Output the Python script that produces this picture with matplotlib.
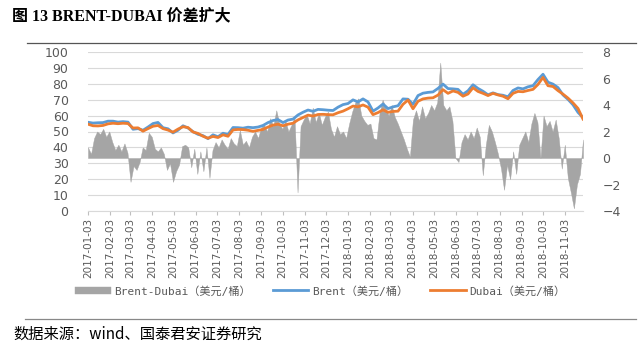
import matplotlib
matplotlib.use("Agg")
import matplotlib.pyplot as plt
import pandas as pd
import numpy as np

# ---- data ----
brent = [55.8, 55.3, 55.5, 55.6, 56.5, 56.5, 55.9, 56.2, 55.9, 51.4, 51.8, 50.8, 52.8,
         55.0, 55.7, 52.4, 51.7, 49.1, 50.8, 53.6, 52.2, 49.9, 48.2, 47.4, 45.5, 47.9,
         46.7, 48.9, 48.1, 52.5, 52.4, 52.1, 52.7, 52.4, 52.8, 53.8, 55.6, 56.9, 57.5,
         55.6, 57.2, 57.8, 60.4, 62.1, 63.5, 62.7, 63.9, 63.7, 63.4, 63.2, 65.3, 66.9,
         67.6, 69.9, 68.6, 70.5, 68.6, 62.8, 64.8, 67.3, 64.4, 65.5, 66.2, 70.5, 70.3,
         67.1, 72.6, 74.1, 74.6, 74.9, 77.1, 79.8, 77.0, 76.8, 76.5, 73.4, 75.6, 79.4,
         77.1, 75.3, 73.1, 74.3, 73.2, 72.8, 71.8, 75.8, 77.4, 76.8, 78.1, 78.8, 82.7,
         86.0, 81.0, 79.8, 77.6, 73.0, 70.2, 66.8, 62.0, 58.8]
dubai = [54.6, 53.6, 53.5, 53.8, 54.8, 55.2, 54.9, 55.2, 55.0, 52.2, 52.3, 50.2, 51.8,
         53.3, 53.8, 51.8, 50.9, 49.6, 51.5, 53.0, 52.5, 49.7, 48.8, 47.0, 45.8, 46.9,
         46.2, 47.9, 47.0, 51.0, 51.3, 51.2, 50.8, 50.1, 50.7, 51.3, 52.8, 54.0, 54.6,
         53.6, 54.6, 55.2, 57.3, 58.8, 60.3, 59.7, 60.7, 60.8, 60.6, 60.5, 61.8, 62.8,
         64.3, 66.0, 65.5, 66.7, 65.3, 60.6, 61.9, 63.6, 62.1, 62.6, 62.8, 67.1, 69.8,
         64.3, 69.0, 70.5, 71.0, 71.2, 72.9, 76.3, 74.0, 75.5, 74.6, 72.2, 73.6, 77.5,
         75.2, 74.0, 72.6, 74.0, 73.0, 72.2, 70.6, 74.0, 75.2, 75.0, 75.8, 76.5, 79.6,
         84.0, 78.8, 78.3, 75.7, 73.5, 71.0, 68.0, 64.5, 57.8]
spread = [0.8, 0.3, 1.5, 2.0, 1.8, 2.2, 1.6,
          2.0, 1.2, 0.6, 1.0, 0.5, 1.1, 0.4,
          -1.8, -0.6, -0.9, -0.3, 0.8, 0.6, 1.9,
          1.6, 0.7, 0.5, 0.8, 0.3, -0.9, -0.4, -1.8,
          -1.0, -0.5, 0.9, 1.0, 0.8, -0.7, 0.7,
          -1.2, 0.5, -1.0, 0.8, -1.5, 0.6, 1.2,
          0.8, 1.4, 1.0, 0.7, 1.5, 1.1, 0.9,
          2.1, 1.0, 1.3, 0.8, 1.6, 2.0, 1.5, 2.3,
          2.5, 2.0, 3.0, 2.4, 3.6, 2.6, 2.2,
          2.8, 2.0, 2.5, 3.1, -2.6, 2.4, 2.9,
          3.3, 2.6, 3.8, 2.7, 3.4, 2.5, 3.1,
          3.5, 2.2, 1.6, 2.4, 1.8, 2.0, 1.5,
          2.6, 3.5, 4.2, 4.5, 3.2, 2.8, 2.5,
          2.6, 1.5, 1.4, 3.4, 4.4, 3.8, 3.2,
          4.0, 3.1, 2.6, 2.0, 1.4, 0.7, 0.1, 2.9,
          3.6, 2.8, 3.9, 3.0, 3.4, 4.0, 3.6,
          4.2, 7.2, 4.0, 3.6, 3.9, 2.8, 0.0,
          -0.3, 1.2, 1.8, 1.4, 2.0, 1.5, 2.3,
          1.6, -1.3, 1.0, 2.5, 2.0, 1.2, 0.3,
          -0.8, -2.4, -0.5, -1.6, 0.5, -1.2, 1.0,
          1.5, 2.0, 1.2, 2.6, 3.4, 2.7, 0.0,
          3.2, 2.4, 2.8, 2.0, 2.9, 1.5, -0.8,
          1.0, -1.5, -2.6, -3.8, -2.0, -1.2, 1.4]
start_date, end_date = "2017-01-03", "2018-11-28"
tick_labels = [f"{y}-{m:02d}-03" for y, m in
               [(2017, m) for m in range(1, 13)] + [(2018, m) for m in range(1, 12)]]
left_ticks = list(range(0, 101, 10))
right_ticks = [8, 6, 4, 2, 0, -2, -4]

price_dates = pd.date_range(start_date, end_date, periods=len(brent))
spread_dates = pd.date_range(start_date, end_date, periods=len(spread))
tick_dates = pd.to_datetime(tick_labels)

C_BRENT = "#5B9BD5"
C_DUBAI = "#ED7D31"
C_SPREAD = "#A5A5A5"
C_TXT = "#595959"

fig = plt.figure(figsize=(6.4, 3.51), dpi=100)
ax = fig.add_axes([88/640, 1-211/351, (583-88)/640, (211-52)/351])
ax2 = ax.twinx()
ax.set_zorder(ax2.zorder + 1)
ax.patch.set_visible(False)

# spread area on right axis
ax2.fill_between(spread_dates, 0, spread, color=C_SPREAD, lw=0.3, ec=C_SPREAD,
                 label="Brent-Dubai（美元/桶）")
ax2.set_ylim(-4, 8)
ax2.set_yticks(right_ticks)
ax2.set_yticklabels([("−" + str(-t)) if t < 0 else str(t) for t in right_ticks])

ax.plot(price_dates, brent, color=C_BRENT, lw=2.0, label="Brent（美元/桶）")
ax.plot(price_dates, dubai, color=C_DUBAI, lw=2.0, label="Dubai（美元/桶）")
ax.set_ylim(0, 100)
ax.set_yticks(left_ticks)
ax.set_xlim(pd.Timestamp(start_date), pd.Timestamp(end_date))
ax.set_xticks(tick_dates)
ax.set_xticklabels(tick_labels, rotation=90, fontsize=7.5, color=C_TXT)

for t in left_ticks:
    ax2.axhline(-4 + t * 0.12, color="#D9D9D9", lw=0.8, zorder=0)

for a in (ax, ax2):
    for s in a.spines.values():
        s.set_visible(False)
ax.spines["bottom"].set_visible(True)
ax.spines["bottom"].set_color("#D9D9D9")
ax.tick_params(axis="y", length=0, labelsize=9, labelcolor=C_TXT, pad=14)
ax2.tick_params(axis="y", length=0, labelsize=9, labelcolor=C_TXT, pad=14)
ax.tick_params(axis="x", length=3, color="#BFBFBF", pad=2)

h1, l1 = ax2.get_legend_handles_labels()
h2, l2 = ax.get_legend_handles_labels()
leg = fig.legend(h1 + h2, l1 + l2, loc="center", bbox_to_anchor=(0.5, 1-291/351),
                 ncol=3, frameon=False, prop={"family": ["DejaVu Sans Mono", "Noto Sans CJK SC"], "size": 8},
                 handlelength=3.2, columnspacing=2.0, handletextpad=0.3)
for t in leg.get_texts():
    t.set_color(C_TXT)

fig.text(12/640, 1-16/351, "图 13 BRENT-DUBAI 价差扩大", fontsize=11.5, fontweight="bold",
         family=["Liberation Serif", "Noto Sans CJK SC"], va="center", ha="left")
fig.add_artist(plt.Line2D([27/640, 636/640], [1-43/351, 1-43/351], color="#555555", lw=0.9))
fig.add_artist(plt.Line2D([25/640, 636/640], [1-319/351, 1-319/351], color="#888888", lw=0.9))
fig.text(13/640, 1-334/351, "数据来源：wind、国泰君安证券研究", fontsize=11,
         family=["Noto Sans CJK SC", "Liberation Serif"], va="center", ha="left")

fig.savefig("out.png", dpi=100)
